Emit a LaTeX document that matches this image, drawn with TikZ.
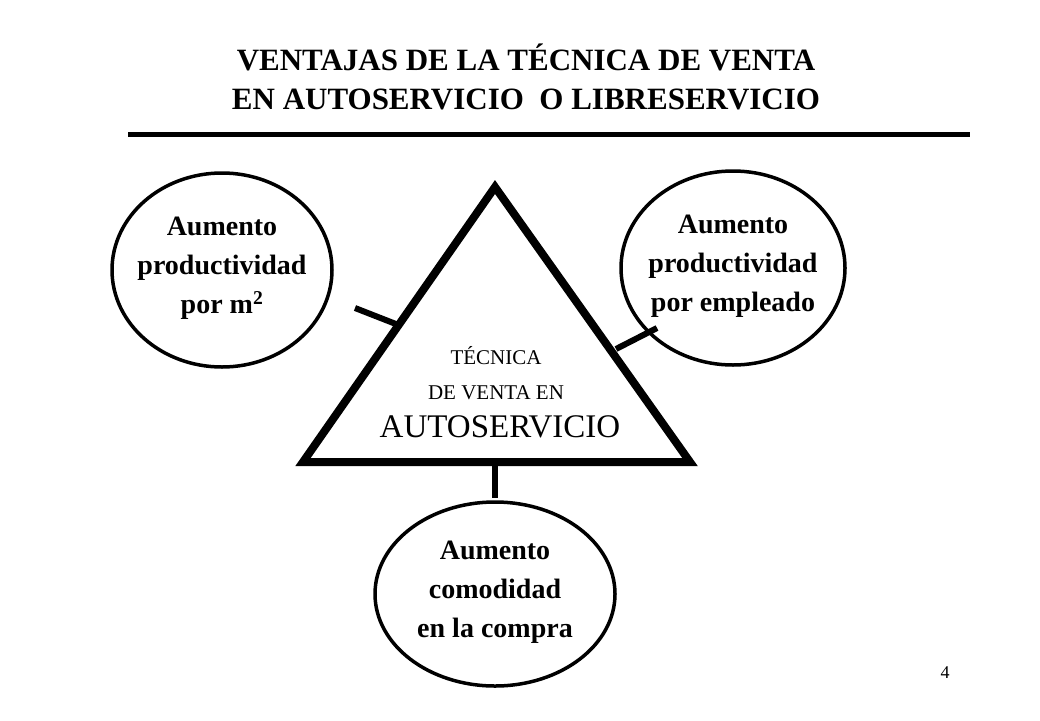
\documentclass[tikz,border=0pt]{standalone}
\usepackage{fontspec}
\setmainfont{Liberation Serif}
\begin{document}
\begin{tikzpicture}[x=1pt,y=-1pt,
  lbl/.style={font=\fontsize{28}{39}\selectfont\bfseries,align=center},
  conn/.style={line width=6pt}]
\useasboundingbox (0,0) rectangle (1040,720);
\node[font=\fontsize{31}{39}\selectfont\bfseries,align=center] (title) at (526,77)
 {VENTAJAS DE LA TÉCNICA DE VENTA\\EN AUTOSERVICIO\ \ O LIBRESERVICIO};
\draw[line width=5pt] (128,134) -- (970,134);
\draw[line width=8pt,line join=miter] (495,187) -- (303,462) -- (690,462) -- cycle;
\node[align=center,font=\fontsize{21}{35}\selectfont] (tri) at (496,373) {TÉCNICA\\DE VENTA EN};
\node[font=\fontsize{33}{36}\selectfont] (auto) at (500,427) {AUTOSERVICIO};
\draw[line width=3.5pt] (222,270) ellipse [x radius=110,y radius=97];
\draw[line width=3.5pt] (733,268) ellipse [x radius=112,y radius=97];
\draw[line width=3.5pt] (495,594) ellipse [x radius=120,y radius=92];
\node[lbl] (L) at (222,268) {Aumento\\productividad\\por m\textsuperscript{2}};
\node[lbl] (R) at (733,266) {Aumento\\productividad\\por empleado};
\node[lbl] (B) at (495,592) {Aumento\\comodidad\\en la compra};
\coordinate (l1) at (355,308); \coordinate (l2) at (401,326);
\coordinate (r1) at (657,328); \coordinate (r2) at (616,349);
\coordinate (b1) at (495,465); \coordinate (b2) at (495,498);
\draw[conn] (l1) -- (l2);
\draw[conn] (r1) -- (r2);
\draw[conn] (b1) -- (b2);
\node[font=\fontsize{18}{20}\selectfont] (pg) at (945,673) {4};
\end{tikzpicture}
\end{document}
